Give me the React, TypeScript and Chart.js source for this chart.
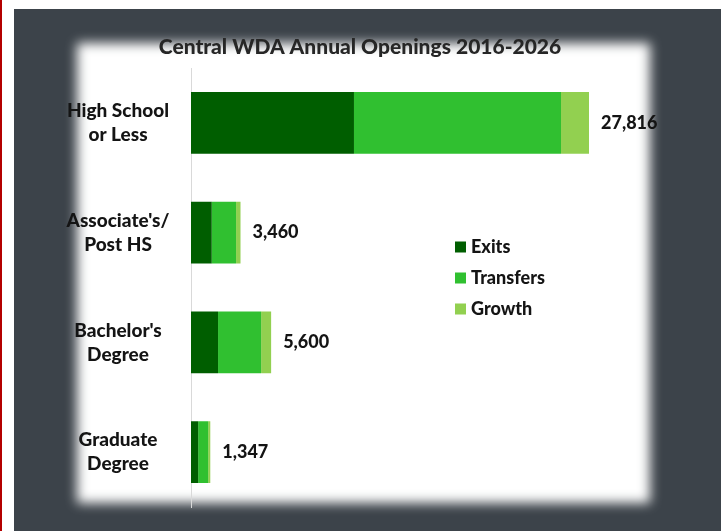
import React, { useEffect, useRef } from "react";
import { Chart, registerables } from "chart.js";

Chart.register(...registerables);

const chartTitle = "Central WDA Annual Openings 2016-2026";
const categories: string[][] = [
  ["High School", "or Less"],
  ["Associate's/", "Post HS"],
  ["Bachelor's", "Degree"],
  ["Graduate", "Degree"],
];
const exits = [11390, 1450, 1890, 500];
const transfers = [14470, 1700, 3010, 700];
const growth = [1956, 310, 700, 147];
const seriesNames = ["Exits", "Transfers", "Growth"];
const seriesColors = ["#005e00", "#30c030", "#92d050"];
const xMax = 30000;

const FONT = "Lato, 'Open Sans', sans-serif";

const overlayPlugin = {
  id: "overlay",
  afterDatasetsDraw(chart: any) {
    const ctx = chart.ctx as CanvasRenderingContext2D;
    const xs = chart.scales.x;
    const ys = chart.scales.y;
    ctx.save();
    // category labels
    ctx.fillStyle = "#141414";
    ctx.font = `900 19px ${FONT}`;
    ctx.textAlign = "center";
    ctx.textBaseline = "middle";
    categories.forEach((lines, i) => {
      const cy = ys.getPixelForValue(i);
      const lh = 24;
      const y0 = cy - ((lines.length - 1) * lh) / 2;
      lines.forEach((t, j) => ctx.fillText(t, 118, y0 + j * lh));
    });
    // totals
    ctx.font = `900 18px ${FONT}`;
    ctx.textAlign = "left";
    categories.forEach((_, i) => {
      const total = chart.data.datasets.reduce((s: number, d: any) => s + d.data[i], 0);
      const x = xs.getPixelForValue(total) + 12;
      ctx.fillText(total.toLocaleString("en-US"), x, ys.getPixelForValue(i));
    });
    // legend
    ctx.font = `900 18px ${FONT}`;
    chart.data.datasets.forEach((d: any, k: number) => {
      const y = 247 + k * 31;
      ctx.fillStyle = d.backgroundColor;
      ctx.fillRect(455, y - 5.5, 11, 11);
      ctx.fillStyle = "#141414";
      ctx.fillText(d.label, 471, y);
    });
    // title
    ctx.fillStyle = "#262626";
    ctx.font = `900 21px ${FONT}`;
    ctx.textAlign = "center";
    ctx.fillText(chartTitle, 360, 47);
    ctx.restore();
  },
};

export default function App() {
  const ref = useRef<HTMLCanvasElement | null>(null);
  useEffect(() => {
    if (!ref.current) return;
    const chart = new Chart(ref.current, {
      type: "bar",
      data: {
        labels: categories.map((c) => c.join(" ")),
        datasets: seriesNames.map((name, k) => ({
          label: name,
          data: [exits, transfers, growth][k],
          backgroundColor: seriesColors[k],
          borderWidth: 0,
          barPercentage: 0.564,
          categoryPercentage: 1,
        })),
      },
      options: {
        indexAxis: "y",
        animation: false,
        responsive: false,
        devicePixelRatio: 1,
        layout: { padding: { left: 191, top: 68, bottom: 24, right: 721 - 191 - (xMax * 398) / 27816 } },
        plugins: { legend: { display: false }, tooltip: { enabled: false }, title: { display: false } },
        scales: {
          x: { stacked: true, display: false, min: 0, max: xMax },
          y: {
            stacked: true,
            display: true,
            grid: { display: false, drawTicks: false },
            ticks: { display: false },
            border: { display: true, color: "#d9d9d9", width: 1 },
          },
        },
      },
      plugins: [overlayPlugin],
    });
    return () => chart.destroy();
  }, []);

  return (
    <div style={{ position: "absolute", left: 0, top: 0, width: 721, height: 531, background: "#ffffff", overflow: "hidden" }}>
      <div style={{ position: "absolute", left: 0, top: 0, width: 2, height: 531, background: "#b40000" }} />
      <div style={{ position: "absolute", left: 14, top: 9, right: 0, bottom: 0, background: "#3c434a", overflow: "hidden" }}>
        <div style={{ position: "absolute", left: 77 - 14, top: 43 - 9, width: 573, height: 460, background: "#ffffff", filter: "blur(6px)" }} />
      </div>
      <canvas ref={ref} width={721} height={531} style={{ position: "absolute", left: 0, top: 0, width: 721, height: 531, filter: "blur(0.4px)" }} />
    </div>
  );
}
